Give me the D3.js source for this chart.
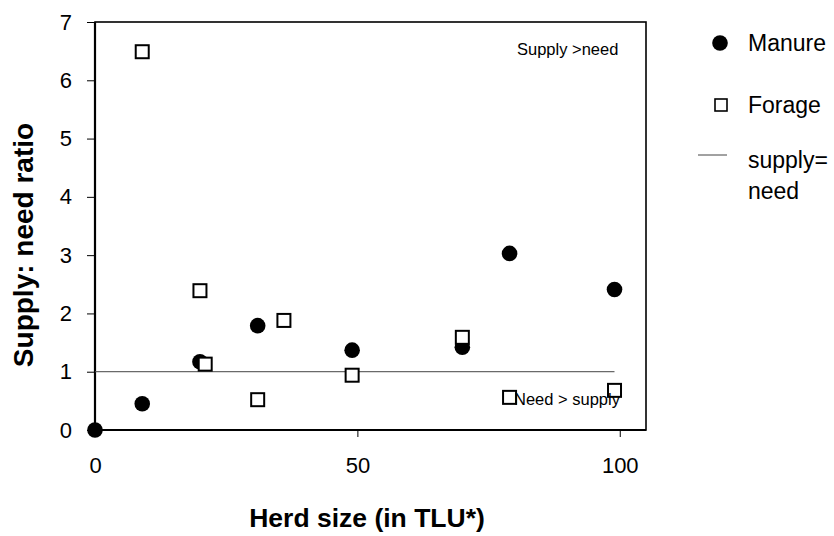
<!DOCTYPE html>
<html>
<head>
<meta charset="utf-8">
<script src="https://cdn.jsdelivr.net/npm/d3@7"></script>
<style>
  body { margin: 0; background: #fff; }
  text { font-family: "Liberation Sans", Arial, sans-serif; fill: #000; }
</style>
</head>
<body>
<svg id="chart" width="834" height="536"></svg>
<script>
// herd size (TLU) and supply:need ratio
var manureX = [0, 9, 20, 31, 49, 70, 79, 99];
var manureY = [0, 0.45, 1.17, 1.79, 1.37, 1.42, 3.03, 2.41];
var forageX = [9, 20, 21, 31, 36, 49, 70, 79, 99];
var forageY = [6.49, 2.39, 1.13, 0.52, 1.88, 0.94, 1.59, 0.56, 0.68];
var xTicks = [0, 50, 100];
var yTicks = [0, 1, 2, 3, 4, 5, 6, 7];
var refLine = [[0, 1], [99, 1]];
var legendItems = ["Manure", "Forage", "supply=", "need"];

var svg = d3.select("#chart");

var x = d3.scaleLinear().domain([0, 105]).range([95, 646]);
var y = d3.scaleLinear().domain([0, 7]).range([430, 22]);

//------------------- axes -------------------
svg.append("g")
    .attr("transform", "translate(0,430)")
    .call(d3.axisBottom(x).tickValues(xTicks).tickSize(7).tickPadding(20).tickFormat(d3.format("d")))
    .call(g => g.select(".domain").remove())
    .call(g => g.selectAll("line").attr("stroke", "#000").attr("stroke-width", 1))
    .call(g => g.selectAll("text").style("font-size", "22px").attr("font-family", null));

svg.append("g")
    .attr("transform", "translate(95,0)")
    .call(d3.axisLeft(y).tickValues(yTicks).tickSize(8).tickPadding(15).tickFormat(d3.format("d")))
    .call(g => g.select(".domain").remove())
    .call(g => g.selectAll("line").attr("stroke", "#000").attr("stroke-width", 1))
    .call(g => g.selectAll("text").style("font-size", "22px").attr("font-family", null));

// frame
svg.append("rect")
    .attr("x", x(0)).attr("y", y(7))
    .attr("width", x(105) - x(0)).attr("height", y(0) - y(7))
    .attr("fill", "none").attr("stroke", "#000").attr("stroke-width", 1.6);
svg.append("path")
    .attr("d", "M" + x(0) + "," + y(7) + "V" + y(0) + "H" + x(105))
    .attr("fill", "none").attr("stroke", "#000").attr("stroke-width", 2.2);

// supply = need line
svg.append("path")
    .attr("d", d3.line().x(d => x(d[0])).y(d => y(d[1]))(refLine))
    .attr("stroke", "#444").attr("stroke-width", 1).attr("fill", "none");

//------------------- points -------------------
svg.append("g").selectAll("circle")
    .data(manureX.map((v, i) => [v, manureY[i]]))
    .join("circle")
    .attr("cx", d => x(d[0])).attr("cy", d => y(d[1]))
    .attr("r", 7.8).attr("fill", "#000");

svg.append("g").selectAll("rect")
    .data(forageX.map((v, i) => [v, forageY[i]]))
    .join("rect")
    .attr("x", d => x(d[0]) - 6.5).attr("y", d => y(d[1]) - 6.5)
    .attr("width", 13).attr("height", 13)
    .attr("fill", "#fff").attr("stroke", "#000").attr("stroke-width", 2);

//------------------- annotations -------------------
svg.append("text").attr("x", 517).attr("y", 55)
    .style("font-size", "16.5px").text("Supply >need");
svg.append("text").attr("x", 514).attr("y", 405)
    .style("font-size", "16.5px").text("Need > supply");

svg.append("text")
    .attr("transform", "translate(33,245) rotate(-90)")
    .attr("text-anchor", "middle")
    .style("font-size", "28px").style("font-weight", "bold")
    .text("Supply: need ratio");

svg.append("text")
    .attr("x", 367).attr("y", 527)
    .attr("text-anchor", "middle")
    .style("font-size", "26.5px").style("font-weight", "bold")
    .text("Herd size (in TLU*)");

//------------------- legend -------------------
var lg = svg.append("g");
lg.append("circle").attr("cx", 720).attr("cy", 43).attr("r", 7.8).attr("fill", "#000");
lg.append("rect").attr("x", 715).attr("y", 99).attr("width", 12).attr("height", 12)
    .attr("fill", "#fff").attr("stroke", "#000").attr("stroke-width", 1.6);
lg.append("line").attr("x1", 698).attr("x2", 727).attr("y1", 155).attr("y2", 155)
    .attr("stroke", "#444").attr("stroke-width", 1);

var legendY = [51, 113, 168, 199];
lg.selectAll("text.leg")
    .data(legendItems)
    .join("text")
    .attr("class", "leg")
    .attr("x", 748)
    .attr("y", (d, i) => legendY[i])
    .style("font-size", "23px")
    .text(d => d);
</script>
</body>
</html>
